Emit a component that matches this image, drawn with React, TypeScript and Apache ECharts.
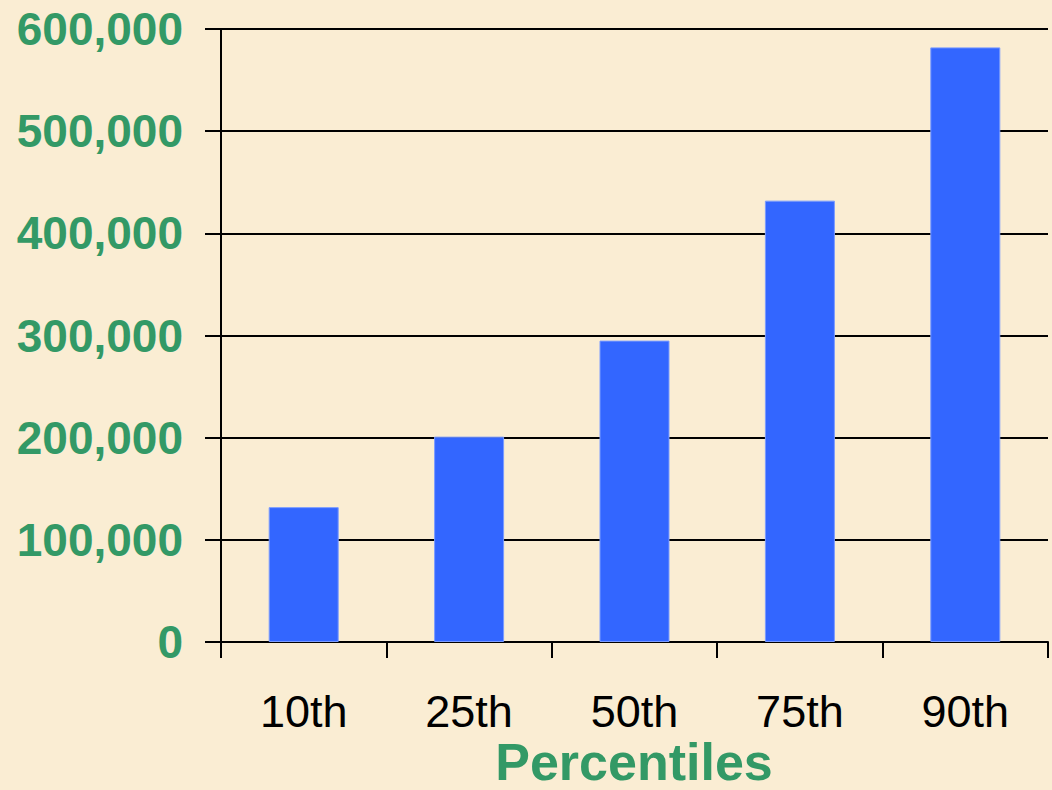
import React, { useEffect, useRef } from "react";
import * as echarts from "echarts";

const categories = ["10th", "25th", "50th", "75th", "90th"];
const values = [132000, 201000, 295000, 432000, 582000];
const axisTitle = "Percentiles";

const GREEN = "#339966";
const FONT = '"Liberation Sans", Arial, sans-serif';

export default function App() {
  const ref = useRef<HTMLDivElement>(null);
  useEffect(() => {
    if (!ref.current) return;
    const chart = echarts.init(ref.current, undefined, { renderer: "svg" });
    chart.setOption({
      animation: false,
      backgroundColor: "#FAEDD3",
      grid: { left: 221, right: 4, top: 29, bottom: 148, containLabel: false },
      xAxis: {
        type: "category",
        data: categories,
        boundaryGap: true,
        axisLine: { show: true, lineStyle: { color: "#000", width: 2 } },
        axisTick: { show: true, length: 16, interval: 0, lineStyle: { color: "#000", width: 2 } },
        axisLabel: {
          color: "#000",
          fontSize: 45,
          fontFamily: FONT,
          margin: 47,
          interval: 0,
        },
      },
      yAxis: {
        type: "value",
        min: 0,
        max: 600000,
        interval: 100000,
        axisLine: { show: true, lineStyle: { color: "#000", width: 2 } },
        axisTick: { show: true, length: 16, lineStyle: { color: "#000", width: 2 } },
        splitLine: { show: true, lineStyle: { color: "#000", width: 2 } },
        axisLabel: {
          color: GREEN,
          fontSize: 46,
          fontWeight: "bold",
          fontFamily: FONT,
          margin: 38,
          formatter: (v: number) => v.toLocaleString("en-US"),
        },
      },
      series: [
        {
          type: "bar",
          data: values,
          barWidth: 70,
          itemStyle: { color: "#3366FF", borderColor: "#7A9BFF", borderWidth: 1 },
        },
      ],
      graphic: [
        {
          type: "text",
          x: 634,
          y: 762,
          style: {
            text: axisTitle,
            fill: GREEN,
            font: `bold 52px ${FONT}`,
            textAlign: "center",
            textVerticalAlign: "middle",
          },
        },
      ],
    });
    return () => chart.dispose();
  }, []);
  return (
    <div
      ref={ref}
      style={{ position: "fixed", left: 0, top: 0, width: 1052, height: 790 }}
    />
  );
}
